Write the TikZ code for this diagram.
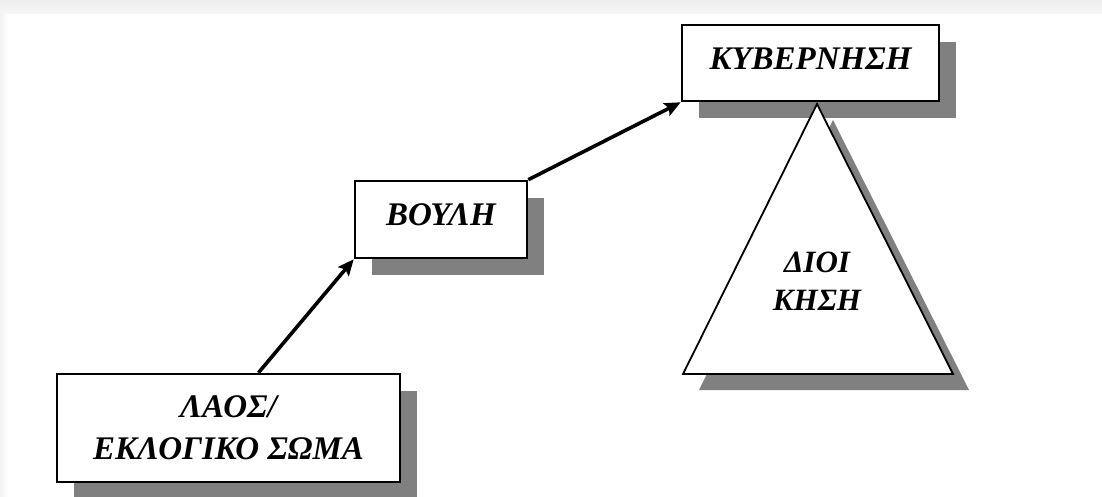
\documentclass[tikz,border=0pt]{standalone}
\usepackage{fontspec}
\setmainfont{Liberation Serif}
\usetikzlibrary{arrows.meta,shadows}
\definecolor{shadowgray}{HTML}{808080}
\tikzset{
  box/.style={draw=black, line width=2.6pt, fill=white, inner sep=0pt, align=center,
    font=\bfseries\itshape\fontsize{33}{42}\selectfont,
    drop shadow={shadow xshift=17pt, shadow yshift=-17pt, fill=shadowgray, opacity=1}},
  oneline/.style={text height=22pt, text depth=10pt},
  conn/.style={line width=3.6pt, -{Stealth[length=16pt,width=14pt,inset=3pt]}},
  tritext/.style={font=\bfseries\itshape\fontsize{31}{38}\selectfont, align=center, inner sep=0pt}
}
\begin{document}
\begin{tikzpicture}[x=1pt,y=-1pt]
\useasboundingbox (0,0) rectangle (1102,496);
\fill[white] (0,0) rectangle (1102,496);
\shade[top color=gray!14, bottom color=gray!7] (0,0) rectangle (1102,13);
\shade[left color=gray!10, right color=white] (0,13) rectangle (8,496);
% nodes
\node[box, oneline, minimum width=257pt, minimum height=76pt] (kyb) at (810.5,63) {ΚΥΒΕΡΝΗΣΗ};
\node[box, oneline, minimum width=172pt, minimum height=77pt] (boule) at (441,219.5) {ΒΟΥΛΗ};
\node[box, minimum width=343pt, minimum height=108pt] (laos) at (228.5,428) {ΛΑΟΣ/\\ΕΚΛΟΓΙΚΟ ΣΩΜΑ};
% triangle
\coordinate (ta) at (817,104);
\coordinate (tl) at (683,374);
\coordinate (tr) at (953,374);
\fill[shadowgray] ([shift={(16,16)}]ta) -- ([shift={(16,16)}]tl) -- ([shift={(16,16)}]tr) -- cycle;
\draw[line width=1.8pt, fill=white, line join=miter] (ta) -- (tl) -- (tr) -- cycle;
\node[tritext] (dioi) at (817,281) {ΔΙΟΙ\\ΚΗΣΗ};
% connectors
\draw[conn] ([xshift=30pt]laos.north) -- (boule.south west);
\draw[conn] (boule.north east) -- (kyb.south west);
\end{tikzpicture}
\end{document}
